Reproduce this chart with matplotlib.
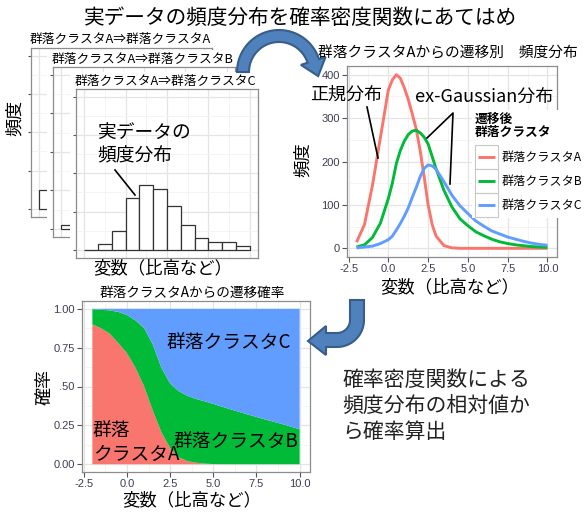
import numpy as np
import matplotlib
matplotlib.use('Agg')
import matplotlib.pyplot as plt
from matplotlib.patches import Rectangle, Polygon

plt.rcParams['font.family'] = ['Noto Sans CJK JP', 'DejaVu Sans']

# ---- data ----
hist_left = [0, 1, 2, 3, 4, 5, 6, 7, 8, 9, 10, 11]
counts_AA = [10, 22, 35, 42, 38, 27, 15, 8, 4, 2, 1, 0]
counts_AB = [2, 6, 15, 28, 36, 33, 24, 14, 8, 4, 2, 1]
counts_AC = [0, 3, 10, 27, 34, 32, 23, 13, 6, 4, 4, 2]
panel_titles = ['群落クラスタA⇒群落クラスタA', '群落クラスタA⇒群落クラスタB', '群落クラスタA⇒群落クラスタC']

dens_x = [-2, -1.5, -1, -0.5, 0, 0.25, 0.5, 0.75, 1, 1.25, 1.5, 1.75, 2, 2.25, 2.5, 2.75,
          3, 3.5, 4, 4.5, 5, 5.5, 6, 6.5, 7, 7.5, 8, 8.5, 9, 9.5, 10]
dens_A = [14, 55, 145, 255, 365, 388, 400, 392, 370, 343, 310, 275, 225, 165, 100, 55,
          28, 6, 1, 0, 0, 0, 0, 0, 0, 0, 0, 0, 0, 0, 0]
dens_B = [3, 8, 25, 58, 115, 150, 195, 225, 247, 262, 270, 272, 266, 256, 240, 212,
          183, 133, 95, 68, 52, 38, 29, 21, 15, 11, 8, 6, 4, 3, 2]
dens_C = [1, 3, 5, 11, 20, 28, 42, 57, 74, 93, 117, 140, 165, 184, 192, 190,
          182, 153, 122, 98, 80, 63, 51, 40, 33, 26, 21, 16, 12, 9, 7]
cluster_names = ['群落クラスタA', '群落クラスタB', '群落クラスタC']

prob_x = [-2, -1.5, -1, -0.5, 0, 0.5, 1, 1.5, 2, 2.5, 3, 3.5, 4, 4.5, 5, 6, 7, 8, 9, 10]
prob_A = [0.90, 0.875, 0.84, 0.78, 0.715, 0.62, 0.50, 0.345, 0.205, 0.105, 0.045, 0.02,
          0.01, 0.004, 0.001, 0, 0, 0, 0, 0]
prob_B = [0.097, 0.118, 0.15, 0.20, 0.245, 0.305, 0.375, 0.425, 0.415, 0.415, 0.425, 0.42,
          0.41, 0.401, 0.387, 0.353, 0.32, 0.288, 0.258, 0.225]
prob_C = [0.003, 0.007, 0.01, 0.02, 0.04, 0.075, 0.125, 0.23, 0.38, 0.48, 0.53, 0.56,
          0.58, 0.595, 0.612, 0.647, 0.68, 0.712, 0.742, 0.775]

# ---- style ----
W, H = 584, 512
RED, GREEN, BLUE = '#F8766D', '#00BA38', '#619CFF'
GRID_MAJ, GRID_MIN = '#e4e4e4', '#f2f2f2'
BORDER = '#8c8c8c'
TICKC = '#3d3d55'
ARROW_FC, ARROW_EC = '#4f81bd', '#385d8a'

fig = plt.figure(figsize=(W / 100, H / 100), dpi=100)


def px_axes(l, t, r, b, z):
    return fig.add_axes([l / W, 1 - b / H, (r - l) / W, (b - t) / H], zorder=z)


def style_panel(ax, labels=True):
    for s in ax.spines.values():
        s.set_color(BORDER)
        s.set_linewidth(0.9)
    ax.grid(True, which='major', color=GRID_MAJ, lw=0.9)
    ax.grid(True, which='minor', color=GRID_MIN, lw=0.6)
    ax.set_axisbelow(True)
    ax.tick_params(which='major', length=3.5 if labels else 2, color='#555555',
                   labelcolor=TICKC, labelsize=8, pad=1.5)
    ax.tick_params(which='minor', length=0)
    if labels:
        for lbl in ax.get_xticklabels() + ax.get_yticklabels():
            lbl.set_fontfamily('Liberation Sans')
    else:
        ax.set_xticklabels([])
        ax.set_yticklabels([])


# ---- stacked histogram panels ----
panels = [(31, 48, 212, 217, counts_AA), (53, 67, 235, 237, counts_AB), (76, 89, 258, 258, counts_AC)]
for i, ((l, t, r, b, counts), title) in enumerate(zip(panels, panel_titles)):
    bg = px_axes(l - 6, t - 17, r + 3, (b + 4) if i < 2 else 282, 2 * i + 1)
    bg.set_xticks([])
    bg.set_yticks([])
    for s in bg.spines.values():
        s.set_visible(False)
    ax = px_axes(l, t, r, b, 2 * i + 2)
    ax.bar(hist_left, counts, width=1, align='edge', facecolor='white',
           edgecolor='#333333', linewidth=0.9)
    ax.set_xlim(-0.6, 12.6)
    ax.set_ylim(-4.2, 84)
    ax.set_xticks([0, 3, 6, 9, 12])
    ax.set_xticks([1.5, 4.5, 7.5, 10.5], minor=True)
    ax.set_yticks([0, 20, 40, 60, 80])
    ax.set_yticks([10, 30, 50, 70], minor=True)
    style_panel(ax, labels=False)
    ax.tick_params(axis='x', length=0)
    fig.text((l - 1) / W, 1 - (t - 8) / H, title, fontsize=9.2, ha='left', va='center',
             zorder=2 * i + 2)

# ---- density panel ----
ax_r = px_axes(347, 66, 557, 257, 8)
for ys, col in zip([dens_A, dens_B, dens_C], [RED, GREEN, BLUE]):
    ax_r.plot(dens_x, ys, color=col, lw=2.1, solid_capstyle='butt')
ax_r.set_xlim(-2.6, 10.6)
ax_r.set_ylim(-20, 420)
ax_r.set_xticks([-2.5, 0, 2.5, 5, 7.5, 10])
ax_r.set_xticklabels(['-2.5', '0.0', '2.5', '5.0', '7.5', '10.0'])
ax_r.set_xticks([-1.25, 1.25, 3.75, 6.25, 8.75], minor=True)
ax_r.set_yticks([0, 100, 200, 300, 400])
ax_r.set_yticks([50, 150, 250, 350], minor=True)
style_panel(ax_r)

# ---- probability panel ----
ax_b = px_axes(82, 301, 310, 472, 8)
ax_b.stackplot(prob_x, prob_A, prob_B, prob_C, colors=[RED, GREEN, BLUE], lw=0)
ax_b.set_xlim(-2.6, 10.6)
ax_b.set_ylim(-0.05, 1.05)
ax_b.set_xticks([-2.5, 0, 2.5, 5, 7.5, 10])
ax_b.set_xticklabels(['-2.5', '0.0', '2.5', '5.0', '7.5', '10.0'])
ax_b.set_xticks([-1.25, 1.25, 3.75, 6.25, 8.75], minor=True)
ax_b.set_yticks([0, 0.25, 0.5, 0.75, 1.0])
ax_b.set_yticklabels(['0.00', '0.25', '0.50', '0.75', '1.00'])
ax_b.set_yticks([0.125, 0.375, 0.625, 0.875], minor=True)
style_panel(ax_b)
ax_b.text(2.3, 0.78, '群落クラスタC', fontsize=13.5, ha='left', va='center')
ax_b.text(2.7, 0.142, '群落クラスタB', fontsize=13.5, ha='left', va='center')
ax_b.text(-1.97, 0.14, '群落\nクラスタA', fontsize=13.5, ha='left', va='center', linespacing=1.15)

# ---- overlay: titles, labels, arrows, legend ----
ov = fig.add_axes([0, 0, 1, 1], zorder=30)
ov.set_xlim(0, W)
ov.set_ylim(H, 0)
ov.axis('off')

ov.text(300, 18, '実データの頻度分布を確率密度関数にあてはめ', fontsize=14.9, ha='center', va='center')
ov.text(15, 118, '頻度', fontsize=13, rotation=90, ha='center', va='center')
ov.text(163, 268, '変数（比高など）', fontsize=12.5, ha='center', va='center')
ov.text(97, 144, '実データの\n頻度分布', fontsize=13.5, ha='left', va='center', linespacing=1.15)
ov.plot([115, 135], [170, 195], color='black', lw=1.2)

ov.text(318, 53, '群落クラスタAからの遷移別\u3000頻度分布', fontsize=10.6, ha='left', va='center')
ov.text(303, 160, '頻度', fontsize=12.5, rotation=90, ha='center', va='center')
ov.text(450, 287, '変数（比高など）', fontsize=12.5, ha='center', va='center')
ov.text(310, 95, '正規分布', fontsize=13, ha='left', va='center')
ov.plot([367, 378], [107, 158], color='black', lw=1.2)
ov.text(415, 98, 'ex-Gaussian分布', fontsize=13, ha='left', va='center')
ov.plot([427, 453, 450], [138, 113, 184], color='black', lw=1.2)

# legend
ov.add_patch(Rectangle((472, 110), 110, 108, facecolor='white', edgecolor='none'))
ov.text(475, 126, '遷移後\n群落クラスタ', fontsize=9.2, fontweight='bold', ha='left', va='center',
        linespacing=1.0)
for k, (name, col) in enumerate(zip(cluster_names, [RED, GREEN, BLUE])):
    yc = 157 + 24 * k
    ov.add_patch(Rectangle((475, yc - 12), 23, 24, facecolor='white', edgecolor='#c8c8c8', lw=0.8))
    ov.plot([478, 495], [yc, yc], color=col, lw=2.1, solid_capstyle='butt')
    ov.text(502, yc, name, fontsize=8.7, ha='left', va='center')

ov.text(192, 293, '群落クラスタAからの遷移確率', fontsize=9.8, ha='center', va='center')
ov.add_patch(Rectangle((36, 368), 24, 36, facecolor='white', edgecolor='none'))
ov.text(45, 387, '確率', fontsize=13, rotation=90, ha='center', va='center')
ov.text(192, 500, '変数（比高など）', fontsize=12.5, ha='center', va='center')

ov.text(342, 406, '確率密度関数による\n頻度分布の相対値か\nら確率算出', fontsize=15,
        ha='left', va='center', linespacing=1.22, color='#222222')

# top curved arrow
cx, cy, r_in, r_out, th_end = 279, 72, 30, 42, np.deg2rad(18)
th = np.linspace(np.pi, th_end, 40)
outer = np.column_stack([cx + r_out * np.cos(th), cy - r_out * np.sin(th)])
inner = np.column_stack([cx + r_in * np.cos(th[::-1]), cy - r_in * np.sin(th[::-1])])
rm = (r_in + r_out) / 2
tang = np.array([np.sin(th_end), np.cos(th_end)])
tip = np.array([cx + rm * np.cos(th_end), cy - rm * np.sin(th_end)]) + 16 * tang
h_out = [cx + (r_out + 7) * np.cos(th_end), cy - (r_out + 7) * np.sin(th_end)]
h_in = [cx + (r_in - 7) * np.cos(th_end), cy - (r_in - 7) * np.sin(th_end)]
pts = np.vstack([outer, [h_out], [tip], [h_in], inner])
ov.add_patch(Polygon(pts, closed=True, facecolor=ARROW_FC, edgecolor=ARROW_EC, lw=1.5))

# bottom J-shaped arrow
jx, jy, hw, rc = 357, 320, 7, 20
phi_o = np.linspace(0, np.pi / 2, 20)
phi_i = phi_o[::-1]
outer_j = np.column_stack([jx - rc + (rc + hw) * np.cos(phi_o), jy + (rc + hw) * np.sin(phi_o)])
inner_j = np.column_stack([jx - rc + (rc - hw) * np.cos(phi_i), jy + (rc - hw) * np.sin(phi_i)])
hy = jy + rc
pts_j = np.vstack([[[jx - hw, 300], [jx + hw, 300]], outer_j,
                   [[326, hy + hw], [326, hy + 15], [308, hy + 1], [326, hy - 14], [326, hy - hw]],
                   inner_j])
ov.add_patch(Polygon(pts_j, closed=True, facecolor=ARROW_FC, edgecolor=ARROW_EC, lw=1.5))

fig.savefig('out.png', dpi=100)
